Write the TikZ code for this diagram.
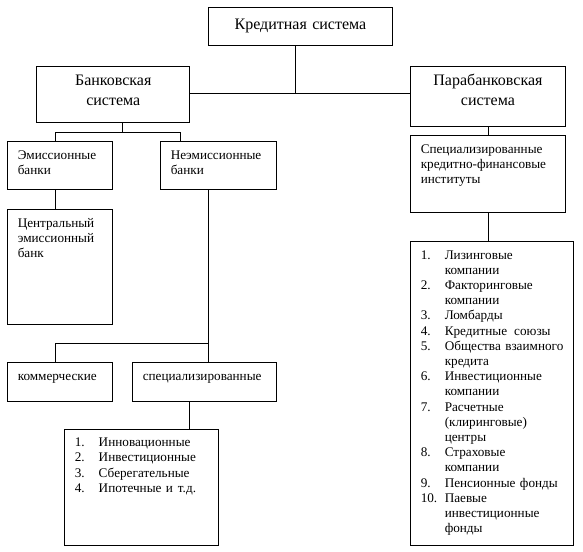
\documentclass[tikz,border=0pt]{standalone}
\usepackage{fontspec}
\setmainfont{Liberation Serif}
\usepackage{tikz}
\usetikzlibrary{positioning,calc}
\newcommand{\lnum}[1]{\makebox[24pt][l]{#1}}
\newcommand{\lcont}{\hspace*{24pt}}
\begin{document}
\begin{tikzpicture}[x=1pt,y=-1pt,line width=0.9pt,
    blk/.style={draw,anchor=north west,inner xsep=10pt,inner ysep=0pt,align=left,
      font=\fontsize{13.2}{15.2}\selectfont,text height=17.7pt},
    bigblk/.style={blk,align=center,font=\fontsize{16}{19.3}\selectfont,text height=19.6pt}]
    \useasboundingbox (0,0) rectangle (583,551);

    % top level
    \node[bigblk,text width=163.4pt,text height=21.4pt,text depth=16.3pt] (kred) at (208.3,7.3) {Кредитная система};
    \node[bigblk,text width=133pt,text depth=36.7pt] (bank) at (36.3,65.7) {Банковская\\система};
    \node[bigblk,text width=134.4pt,text depth=40.7pt] (para) at (410.3,65.7) {Парабанковская\\система};

    % banking side
    \node[blk,text width=85pt,text depth=30.3pt] (emis) at (7.3,141.3) {Эмиссионные\\банки};
    \node[blk,text width=96pt,text depth=30.3pt] (neem) at (160.3,141.3) {Неэмиссионные\\банки};
    \node[blk,text width=85pt,text depth=97.3pt] (cb) at (7.3,209.3) {Центральный\\эмиссионный\\банк};
    \node[blk,text width=85pt,text depth=21pt] (komm) at (7.3,362.3) {коммерческие};
    \node[blk,text width=124pt,text depth=21pt] (spec) at (132.3,362.3) {специализированные};
    \node[blk,text width=134pt,text height=17pt,text depth=98.7pt] (lst1) at (64.3,429.3)
      {\lnum{1.}Инновационные\\\lnum{2.}Инвестиционные\\\lnum{3.}Сберегательные\\\lnum{4.}Ипотечные~и\hspace{5pt}т.д.};

    % parabanking side
    \node[blk,text width=134.4pt,text depth=59.6pt] (inst) at (410.3,135) {Специализированные\\кредитно-финансовые\\институты};
    \node[blk,text width=143pt,text height=17.4pt,text depth=286pt] (lst2) at (410.3,241.3)
      {\lnum{1.}Лизинговые\\\lcont компании\\
       \lnum{2.}Факторинговые\\\lcont компании\\
       \lnum{3.}Ломбарды\\
       \lnum{4.}Кредитные\hspace{7pt}союзы\\
       \lnum{5.}Общества~взаимного\\\lcont кредита\\
       \lnum{6.}Инвестиционные\\\lcont компании\\
       \lnum{7.}Расчетные\\\lcont (клиринговые)\\\lcont центры\\
       \lnum{8.}Страховые\\\lcont компании\\
       \lnum{9.}Пенсионные~фонды\\
       \lnum{10.}Паевые\\\lcont инвестиционные\\\lcont фонды};

    % connectors
    \coordinate (kj) at (295.7,93.3);
    \coordinate (bj) at (122.3,132.3);
    \coordinate (bl) at (55.6,132.3);
    \coordinate (br) at (180.3,132.3);
    \coordinate (nj) at (208.5,343.3);
    \coordinate (sj) at (189.3,415);
    \draw (kred.south -| kj) -- (kj);
    \draw (bank.east |- kj) -- (para.west |- kj);
    \draw (bank.south -| bj) -- (bj);
    \draw (bl |- emis.north) -- (bl) -- (br) -- (br |- neem.north);
    \draw (bl |- emis.south) -- (bl |- cb.north);
    \draw (neem.south -| nj) -- (spec.north -| nj);
    \draw (nj) -- (nj -| bl) -- (bl |- komm.north);
    \draw (spec.south -| sj) -- (lst1.north -| sj);
    \draw (para.south) -- (inst.north);
    \draw (inst.south) -- (inst.south |- lst2.north);
\end{tikzpicture}
\end{document}
